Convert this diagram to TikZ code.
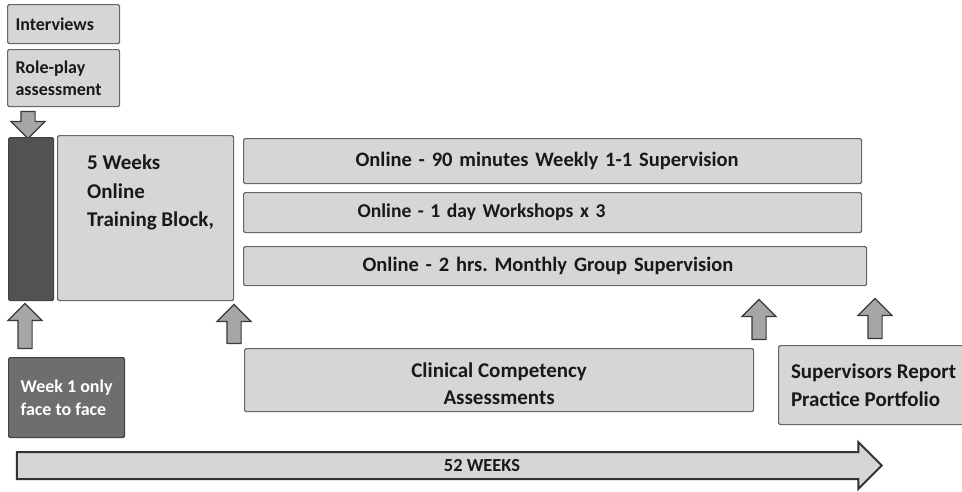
\documentclass[tikz,border=0pt]{standalone}
\usepackage{fontspec}
\setmainfont{Carlito}
\usepackage{xcolor}
\usetikzlibrary{shapes.arrows, positioning}
\frenchspacing

\definecolor{lightfill}{HTML}{D6D6D6}
\definecolor{edgegray}{HTML}{666666}
\definecolor{darkfill}{HTML}{525252}
\definecolor{midfill}{HTML}{6E6E6E}
\definecolor{arrowfill}{HTML}{A6A6A6}
\definecolor{arrowedge}{HTML}{3A3A3A}

\begin{document}
\begin{tikzpicture}[x=1pt, y=-1pt,
    box/.style={draw=edgegray, line width=1.2pt, fill=lightfill, rounded corners=1.5pt,
        anchor=north west, inner sep=0pt, font=\bfseries\fontsize{21}{28}\selectfont, text=black!90},
    smallbox/.style={box, font=\bfseries\fontsize{18}{22}\selectfont},
    onlinebox/.style={box, align=left, font=\bfseries\fontsize{20.5}{24}\selectfont},
    darkbox/.style={box, fill=midfill, draw=black!75, text=white},
    blockup/.style={single arrow, draw=arrowedge, fill=arrowfill, line width=1.2pt, inner sep=6.5pt,
        single arrow head extend=10pt, shape border rotate=90},
    blockdown/.style={blockup, shape border rotate=270},
    txt/.style={inner sep=0pt, font=\bfseries\fontsize{21}{28.5}\selectfont, text=black!90, align=left}
]
    \useasboundingbox (0,0) rectangle (962,491);

    % selection
    \node[smallbox, minimum width=112, minimum height=39, text width=96, align=left] (interviews) at (7,4) {Interviews};
    \node[smallbox, minimum width=112, minimum height=57, text width=96, align=left, yshift=-2] (roleplay) at (7,47) {Role-play\\assessment};
    \node[blockdown, minimum height=27] (down) at (28,121.5) {};

    % training block
    \node[box, fill=darkfill, draw=black!75, minimum width=45, minimum height=163] (weekone) at (8,137) {};
    \node[box, minimum width=176, minimum height=165] (train) at (57,135) {};
    \node[txt, anchor=north west] (traintxt) at (87,155) {5 Weeks\\Online\\Training Block,};

    % online strands
    \node[onlinebox, minimum width=618, minimum height=45, text width=394] (weekly) at (243,138) {Online - 90 minutes Weekly 1-1 Supervision};
    \node[onlinebox, minimum width=618, minimum height=40, text width=390, font=\bfseries\fontsize{19.6}{24}\selectfont] (workshops) at (243,192) {Online - 1 day Workshops x 3};
    \node[onlinebox, minimum width=623, minimum height=39, text width=385] (group) at (243,246) {Online - 2 hrs. Monthly Group Supervision};

    % assessments
    \node[blockup, minimum height=45] (upa) at (25,329.5) {};
    \node[blockup, minimum height=39] (upb) at (234,327.5) {};
    \node[blockup, minimum height=40] (upc) at (759,323) {};
    \node[blockup, minimum height=40] (upd) at (875,322) {};

    \node[darkbox, minimum width=116, minimum height=80, align=left, font=\bfseries\fontsize{18}{23}\selectfont] (faceto) at (8,357) {Week 1 only\\face to face};
    \node[box, minimum width=509, minimum height=63, align=center, font=\bfseries\fontsize{21}{27}\selectfont] (clinical) at (244,348) {\rule{0pt}{22pt}Clinical Competency\\Assessments};
    \node[box, minimum width=190, minimum height=79, align=left] (report) at (778,345) {Supervisors Report\\Practice Portfolio};

    % timeline
    \node[single arrow, draw=black!80, fill=lightfill, line width=2pt, inner sep=12.5pt,
        single arrow head extend=10pt, minimum height=865] (year) at (442.5,465.5) {};
    \node[txt, font=\bfseries\fontsize{18.4}{20}\selectfont] (yeartxt) at (482,466) {52 WEEKS};
\end{tikzpicture}
\end{document}
